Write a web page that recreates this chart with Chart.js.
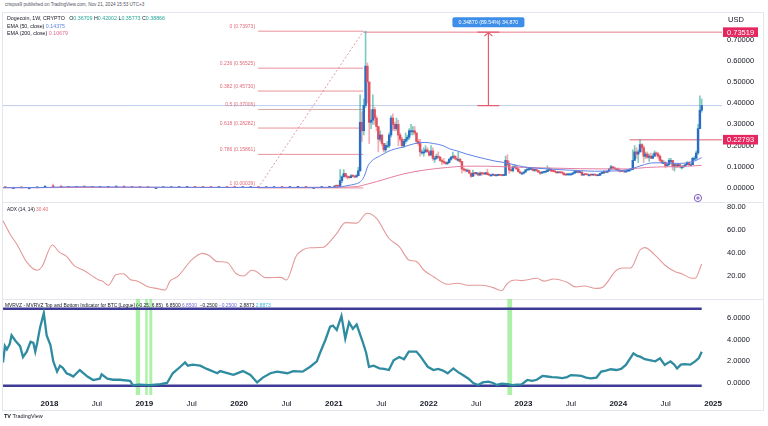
<!DOCTYPE html>
<html>
<head>
<meta charset="utf-8">
<script src="https://cdn.jsdelivr.net/npm/chart.js@4.4.1/dist/chart.umd.min.js"></script>
<style>
  body { margin: 0; background: #fff; font-family: "Liberation Sans", Arial, sans-serif; }
  #wrap { position: relative; width: 768px; height: 426px; overflow: hidden; background: #fff; }
  .frame { position: absolute; left: 2px; top: 12px; width: 762px; height: 399px; border: 1px solid #e3e6ec; box-sizing: border-box; }
  .sep { position: absolute; left: 2px; width: 762px; height: 1px; background: #e3e6ec; }
  canvas { position: absolute; }
  .txt { position: absolute; white-space: nowrap; color: #131722; line-height: 1; z-index: 5; }
</style>
</head>
<body>
<div id="wrap">
  <div class="frame"></div>
  <div class="sep" style="top:202px"></div>
  <div class="sep" style="top:299px"></div>
  <canvas id="price" width="757" height="188" style="left:3px;top:14px"></canvas>
  <canvas id="adx" width="757" height="98" style="left:3px;top:201px"></canvas>
  <canvas id="mvrv" width="757" height="112" style="left:3px;top:299px"></canvas>

  <div class="txt" style="left:5px;top:3px;font-size:4.6px;color:#50535e">crispus9 published on TradingView.com, Nov 21, 2024 15:53 UTC+3</div>
  <div class="txt" style="left:7px;top:15.8px;font-size:5.3px">Dogecoin, 1W, CRYPTO&nbsp;&nbsp; O<span style="color:#26a69a">0.36709</span> H<span style="color:#26a69a">0.42002</span> L<span style="color:#26a69a">0.35773</span> C<span style="color:#26a69a">0.38866</span></div>
  <div class="txt" style="left:7px;top:23.6px;font-size:5.3px">EMA (50, close) <span style="color:#5f82e6">0.14375</span></div>
  <div class="txt" style="left:7px;top:30.8px;font-size:5.3px">EMA (200, close) <span style="color:#e06a8e">0.10679</span></div>
  <div class="txt" style="left:7px;top:207.5px;font-size:4.8px">ADX (14, 14) <span style="color:#e06a6a">30.40</span></div>
  <div class="txt" style="left:5px;top:304px;font-size:4.9px">MVRVZ - MVRVZ Top and Bottom Indicator for BTC [Logue] (-0.25, 6.85)&nbsp; 6.8500 <span style="color:#7e6ccf">6.8500</span>&nbsp; −0.2500 <span style="color:#6a6ad8">−0.2500</span>&nbsp; 2.8873 <span style="color:#36b9d6">2.8873</span></div>
  <div class="txt" style="left:4px;top:414px;font-size:5.5px;color:#131722"><b>TV</b> TradingView</div>
</div>

<script>
// ---- price data: monthly candles Jul 2017 - Dec 2020, then weekly from 4 Jan 2021
var earlyOpen = 0.0019;
var earlyClose = [0.0018, 0.0018, 0.0011, 0.0011, 0.0017, 0.0089,
  0.0058, 0.0049, 0.0030, 0.0049, 0.0048, 0.0028, 0.0031, 0.0045, 0.0057, 0.0045, 0.0030, 0.0024,
  0.0019, 0.0019, 0.0020, 0.0025, 0.0031, 0.0032, 0.0028, 0.0025, 0.0024, 0.0026, 0.0023, 0.0020,
  0.0025, 0.0027, 0.0018, 0.0020, 0.0025, 0.0024, 0.0033, 0.0034, 0.0026, 0.0026, 0.0035, 0.0047];
var earlyHigh = [0.0021, 0.0026, 0.0019, 0.0013, 0.0019, 0.0108,
  0.0187, 0.0066, 0.0049, 0.0058, 0.0072, 0.0047, 0.0038, 0.0047, 0.0076, 0.0058, 0.0046, 0.0030,
  0.0025, 0.0024, 0.0022, 0.0036, 0.0035, 0.0045, 0.0034, 0.0031, 0.0027, 0.0028, 0.0029, 0.0023,
  0.0026, 0.0030, 0.0028, 0.0022, 0.0026, 0.0028, 0.0050, 0.0038, 0.0036, 0.0027, 0.0039, 0.0057];
var earlyLow = [0.0013, 0.0016, 0.0008, 0.0009, 0.0010, 0.0017,
  0.0049, 0.0036, 0.0028, 0.0029, 0.0042, 0.0025, 0.0026, 0.0020, 0.0042, 0.0042, 0.0027, 0.0019,
  0.0018, 0.0018, 0.0019, 0.0020, 0.0024, 0.0029, 0.0025, 0.0023, 0.0023, 0.0023, 0.0022, 0.0019,
  0.0020, 0.0023, 0.0011, 0.0017, 0.0019, 0.0022, 0.0024, 0.0029, 0.0024, 0.0024, 0.0025, 0.0028];

var close2021 = [.0099, .0088, .0086, .035, .053, .068, .056, .051, .049, .058, .056, .052, .058, .081, .31, .27, .39, .575, .50, .31,
  .32, .37, .33, .29, .23, .25, .21, .18, .20, .20, .25, .33, .30, .28, .30, .25, .23, .20, .22, .23,
  .24, .27, .27, .27, .26, .22, .21, .17, .17, .17, .18, .17];
var high2021 = [.0106, .0107, .0093, .087, .058, .087, .070, .058, .054, .063, .061, .057, .064, .098, .44, .36, .42, .74, .59, .50,
  .37, .44, .38, .34, .29, .27, .25, .21, .21, .22, .26, .34, .35, .31, .33, .32, .26, .24, .23, .26,
  .25, .28, .30, .29, .29, .26, .23, .23, .18, .19, .20, .19];
var low2021 = [.0045, .0076, .0074, .0083, .025, .053, .048, .042, .045, .048, .053, .048, .051, .058, .078, .22, .25, .38, .40, .21,
  .28, .30, .30, .27, .17, .22, .20, .17, .17, .19, .19, .24, .27, .27, .27, .20, .22, .19, .19, .21,
  .22, .23, .25, .25, .25, .21, .20, .15, .16, .15, .17, .17];

var close2022 = [.155, .175, .14, .14, .15, .145, .13, .125, .12, .115, .12, .135, .145, .15, .14, .135, .135, .125, .09, .085,
  .083, .083, .07, .055, .07, .068, .07, .061, .07, .068, .066, .072, .063, .061, .061, .063, .058, .06, .062, .06,
  .059, .06, .13, .11, .085, .082, .10, .10, .09, .077, .07, .07];
var high2022 = [.175, .20, .19, .15, .16, .17, .15, .135, .14, .125, .125, .14, .15, .17, .155, .15, .17, .14, .125, .095,
  .09, .09, .087, .07, .085, .073, .074, .071, .076, .072, .071, .074, .089, .066, .065, .066, .065, .062, .064, .065,
  .062, .063, .15, .157, .125, .09, .105, .11, .105, .093, .078, .074];
var low2022 = [.15, .155, .13, .12, .135, .14, .125, .11, .115, .11, .11, .118, .13, .14, .135, .13, .125, .12, .07, .08,
  .075, .08, .07, .05, .055, .06, .063, .058, .06, .06, .064, .064, .061, .058, .058, .059, .057, .056, .058, .059,
  .057, .058, .059, .105, .07, .078, .076, .095, .088, .075, .069, .066];

var close2023 = [.075, .085, .087, .088, .09, .083, .087, .082, .075, .07, .074, .075, .077, .084, .089, .08, .079, .077, .072, .073,
  .072, .071, .063, .062, .066, .066, .066, .07, .078, .078, .073, .075, .061, .064, .063, .062, .062, .061, .063, .061,
  .058, .06, .069, .07, .078, .074, .08, .09, .10, .094, .09, .09];
var high2023 = [.078, .088, .092, .095, .098, .093, .09, .09, .084, .076, .077, .079, .08, .105, .095, .092, .082, .081, .078, .075,
  .074, .075, .072, .064, .068, .069, .07, .073, .083, .08, .079, .076, .076, .065, .068, .064, .064, .063, .064, .065,
  .062, .061, .071, .072, .082, .08, .081, .092, .107, .101, .10, .094];
var low2023 = [.066, .074, .082, .083, .086, .08, .078, .078, .073, .063, .068, .071, .071, .076, .082, .077, .076, .074, .068, .071,
  .07, .07, .06, .058, .061, .063, .063, .064, .069, .074, .071, .072, .058, .06, .062, .061, .06, .06, .06, .06,
  .057, .058, .06, .066, .069, .072, .072, .079, .089, .088, .088, .086];

var close2024 = [.083, .079, .08, .079, .079, .08, .086, .087, .13, .17, .16, .17, .205, .19, .15, .16, .145, .15, .14, .15,
  .165, .16, .15, .13, .12, .12, .105, .11, .13, .13, .10, .11, .10, .11, .10, .10, .105, .11, .12, .11,
  .11, .14, .14, .165, .28, .36709, .38866];
var high2024 = [.095, .087, .083, .081, .082, .084, .088, .09, .18, .20, .19, .18, .228, .21, .20, .17, .17, .16, .165, .16,
  .175, .17, .168, .155, .135, .13, .125, .115, .14, .14, .13, .115, .112, .115, .112, .105, .108, .115, .125, .125,
  .115, .145, .15, .175, .30, .435, .42002];
var low2024 = [.077, .075, .077, .074, .077, .078, .08, .083, .086, .13, .14, .12, .17, .17, .12, .14, .14, .125, .14, .14,
  .15, .15, .14, .125, .115, .115, .095, .10, .108, .12, .085, .08, .095, .098, .095, .09, .095, .10, .11, .105,
  .105, .11, .135, .135, .16, .28, .35773];

// ---- EMA lines (decimal year, price)
var ema50Dates = [2017.51, 2017.9, 2018.1, 2018.3, 2018.6, 2019.0, 2019.5, 2020.0, 2020.5, 2020.95, 2021.08, 2021.15, 2021.22, 2021.28, 2021.32,
  2021.36, 2021.42, 2021.49, 2021.57, 2021.65, 2021.72, 2021.8, 2021.88, 2021.96, 2022.05, 2022.15, 2022.22, 2022.3, 2022.4, 2022.5,
  2022.6, 2022.7, 2022.8, 2022.9, 2023.0, 2023.15, 2023.3, 2023.45, 2023.6, 2023.75, 2023.9, 2024.05, 2024.15, 2024.25, 2024.35,
  2024.45, 2024.55, 2024.65, 2024.75, 2024.82, 2024.88];
var ema50Values = [.0016, .002, .0045, .006, .005, .004, .003, .0028, .0026, .0032, .006, .012, .018, .03, .055,
  .105, .135, .152, .172, .185, .192, .203, .212, .215, .21, .2, .185, .175, .16, .148,
  .137, .127, .12, .11, .1, .093, .089, .085, .082, .079, .08, .083, .092, .107, .118,
  .119, .117, .116, .121, .13, .14375];
var ema200Dates = [2017.51, 2018.0, 2018.5, 2019.0, 2020.0, 2020.95, 2021.1, 2021.25, 2021.35, 2021.45, 2021.6, 2021.75, 2021.96,
  2022.2, 2022.4, 2022.6, 2022.8, 2023.0, 2023.3, 2023.6, 2023.9, 2024.1, 2024.3, 2024.5, 2024.7, 2024.88];
var ema200Values = [.001, .002, .0028, .003, .0028, .0029, .004, .007, .018, .03, .05, .068, .085,
  .097, .103, .103, .1, .097, .094, .091, .09, .09, .097, .1, .102, .10679];

// ---- ADX (14, 14)
var adxDates = [2017.51, 2017.58, 2017.66, 2017.76, 2017.87, 2017.92, 2018.03, 2018.10, 2018.18, 2018.26,
  2018.36, 2018.52, 2018.56, 2018.62, 2018.70, 2018.78, 2018.85, 2018.93, 2019.04, 2019.14,
  2019.22, 2019.27, 2019.35, 2019.50, 2019.61, 2019.68, 2019.77, 2019.87, 2019.97, 2020.05,
  2020.13, 2020.18, 2020.28, 2020.44, 2020.50, 2020.60, 2020.67, 2020.75, 2020.89, 2020.96,
  2021.03, 2021.12, 2021.24, 2021.35, 2021.45, 2021.58, 2021.69, 2021.79, 2021.87, 2021.95,
  2022.05, 2022.20, 2022.31, 2022.41, 2022.57, 2022.68, 2022.77, 2022.83, 2022.91, 2022.98,
  2023.14, 2023.22, 2023.32, 2023.46, 2023.55, 2023.64, 2023.77, 2023.84, 2023.98, 2024.05,
  2024.13, 2024.23, 2024.28, 2024.39, 2024.49, 2024.60, 2024.67, 2024.76, 2024.81, 2024.88];
var adxValues = [68, 57, 47, 32, 25, 28, 47, 41, 37, 29,
  25, 16.5, 15.5, 12, 21, 22, 17, 15.5, 10.7, 9,
  7.8, 15.5, 19.4, 34, 39.7, 38, 32.5, 32, 22, 20,
  25, 24, 18.6, 18.8, 16.5, 37, 42.6, 44.5, 45, 50,
  57, 66.4, 66, 74.5, 70, 52.8, 45.5, 34, 32.6, 25,
  19.4, 12.8, 13.7, 12, 12, 9.9, 7.2, 13.6, 16.5, 16,
  18, 15.5, 17.4, 14.5, 10.5, 11.3, 9.2, 10.5, 25, 27,
  27, 42.6, 44.7, 38, 29.6, 23.7, 22, 18.3, 18, 30.4];

// ---- MVRVZ
var mvrvDates = [2017.51, 2017.53, 2017.55, 2017.58, 2017.60, 2017.64, 2017.69, 2017.72, 2017.76, 2017.80,
  2017.83, 2017.85, 2017.87, 2017.90, 2017.94, 2017.97, 2018.01, 2018.04, 2018.08, 2018.11,
  2018.14, 2018.18, 2018.22, 2018.25, 2018.32, 2018.40, 2018.46, 2018.53, 2018.55, 2018.61,
  2018.67, 2018.74, 2018.85, 2018.88, 2018.95, 2019.06, 2019.17, 2019.24, 2019.30, 2019.38,
  2019.43, 2019.46, 2019.51, 2019.59, 2019.66, 2019.77, 2019.80, 2019.94, 2020.04, 2020.12,
  2020.19, 2020.25, 2020.33, 2020.40, 2020.51, 2020.57, 2020.67, 2020.75, 2020.82, 2020.85,
  2020.91, 2020.96, 2020.99, 2021.03, 2021.08, 2021.12, 2021.16, 2021.20, 2021.24, 2021.30,
  2021.34, 2021.37, 2021.42, 2021.48, 2021.53, 2021.58, 2021.63, 2021.69, 2021.74, 2021.79,
  2021.87, 2021.91, 2021.95, 2021.99, 2022.05, 2022.10, 2022.15, 2022.20, 2022.26, 2022.31,
  2022.36, 2022.42, 2022.47, 2022.52, 2022.57, 2022.63, 2022.68, 2022.72, 2022.77, 2022.83,
  2022.88, 2022.93, 2022.98, 2023.04, 2023.09, 2023.14, 2023.20, 2023.25, 2023.30, 2023.35,
  2023.41, 2023.46, 2023.50, 2023.55, 2023.61, 2023.66, 2023.71, 2023.77, 2023.82, 2023.87,
  2023.92, 2023.98, 2024.03, 2024.08, 2024.12, 2024.16, 2024.20, 2024.23, 2024.28, 2024.33,
  2024.39, 2024.44, 2024.49, 2024.55, 2024.59, 2024.62, 2024.66, 2024.70, 2024.76, 2024.81,
  2024.85, 2024.88];
var mvrvValues = [1.9, 3.4, 3.1, 3.6, 4.4, 3.9, 3.4, 2.4, 2.9, 3.8,
  3.7, 2.9, 3.7, 5.1, 6.45, 4.4, 3.5, 2.0, 1.05, 1.6,
  1.4, 0.9, 0.75, 0.6, 1.2, 0.6, 0.27, 0.4, 0.8, 0.4,
  0.3, 0.3, 0.2, -0.2, -0.15, -0.2, -0.1, 0.0, 0.9, 1.5,
  1.9, 1.6, 1.7, 1.6, 1.3, 0.9, 1.1, 0.75, 1.1, 0.75,
  0.05, 0.5, 0.9, 1.05, 0.9, 1.1, 1.05, 1.5, 2.0, 2.7,
  3.97, 5.2, 5.3, 4.9, 6.2, 4.1, 5.6, 5.0, 5.4, 3.9,
  2.8, 1.5, 1.6, 1.35, 1.3, 1.2, 2.1, 2.4, 2.2, 2.9,
  2.9, 2.5, 2.0, 1.5, 1.2, 1.3, 1.15, 0.9, 1.35, 1.0,
  0.73, 0.4, 0.0, -0.18, 0.05, 0.12, 0.0, -0.18, -0.05, -0.1,
  -0.2, -0.15, -0.12, 0.28, 0.2, 0.3, 0.65, 0.6, 0.55, 0.52,
  0.45, 0.55, 0.73, 0.7, 0.65, 0.5, 0.43, 0.5, 1.05, 1.15,
  1.27, 1.2, 1.3, 1.67, 2.2, 2.74, 2.5, 2.43, 2.2, 2.12,
  2.0, 2.28, 1.67, 2.0, 1.7, 1.35, 1.7, 1.75, 1.7, 2.0,
  2.3, 2.8873];
var mvrvBands = [6.85, -0.25];
var greenZones = [[2018.91, 2018.955], [2019.01, 2019.036], [2019.053, 2019.084], [2022.83, 2022.88]];

// ---- drawings on the price pane
var fibStart = 2020.20, fibEnd = 2021.31;
var fibRatios = ['0', '0.236', '0.382', '0.5', '0.618', '0.786', '1'];
var fibPrices = [0.73973, 0.56525, 0.45730, 0.37006, 0.28282, 0.15861, 0.00039];
var lastClose = 0.38866;
var topLevel = 0.73519, supportLevel = 0.22793, supportFrom = 2024.12;
var measureAt = 2022.63, measureLabel = '0.34870 (89.54%) 34,870';

// ---- axes
var priceTicks = [0, 0.1, 0.2, 0.3, 0.4, 0.5, 0.6, 0.7];
var adxTicks = [20, 40, 60, 80];
var mvrvTicks = [0, 2, 4, 6];
var timeTicks = [2018, 2018.5, 2019, 2019.5, 2020, 2020.5, 2021, 2021.5, 2022, 2022.5, 2023, 2023.5, 2024, 2024.5, 2025];
var xMin = 2017.5095, xMax = 2025.094;

var FONT = '"Liberation Sans", Arial, sans-serif';

function toYear(ms) {
  var y = new Date(ms).getUTCFullYear();
  var a = Date.UTC(y, 0, 1), b = Date.UTC(y + 1, 0, 1);
  return y + (ms - a) / (b - a);
}

var candles = [];
var prev = earlyOpen;
earlyClose.forEach(function (c, i) {
  candles.push({ x: toYear(Date.UTC(2017, 6 + i, 15)), o: prev, h: earlyHigh[i], l: earlyLow[i], c: c });
  prev = c;
});
var wClose = close2021.concat(close2022, close2023, close2024);
var wHigh = high2021.concat(high2022, high2023, high2024);
var wLow = low2021.concat(low2022, low2023, low2024);
wClose.forEach(function (c, i) {
  candles.push({ x: toYear(Date.UTC(2021, 0, 4) + i * 7 * 86400000), o: prev, h: wHigh[i], l: wLow[i], c: c });
  prev = c;
});

function pts(xs, ys) { return xs.map(function (t, i) { return { x: t, y: ys[i] }; }); }

function rightAxis(min, max, ticks, fmt) {
  return {
    position: 'right', min: min, max: max,
    grid: { display: false, drawTicks: false }, border: { display: false },
    afterBuildTicks: function (s) { s.ticks = ticks.map(function (v) { return { value: v }; }); },
    afterFit: function (s) { s.width = 38; s.paddingTop = 0; s.paddingBottom = 0; },
    ticks: { padding: 5, color: '#131722', font: { size: 7.5, family: FONT }, callback: fmt }
  };
}

function hline(ctx, x1, y1, x2, y2) { ctx.beginPath(); ctx.moveTo(x1, y1); ctx.lineTo(x2, y2); ctx.stroke(); }

function axisBox(ctx, a, y, text) {
  ctx.fillStyle = '#e5275f';
  ctx.fillRect(a.right + 1, y - 4.8, 35, 9.6);
  ctx.fillStyle = '#fff';
  ctx.font = '7.5px ' + FONT;
  ctx.textAlign = 'left'; ctx.textBaseline = 'middle';
  ctx.fillText(text, a.right + 5, y + 0.5);
}

var pricePlugin = {
  id: 'priceDrawings',
  beforeDatasetsDraw: function (chart) {
    var ctx = chart.ctx, a = chart.chartArea, x = chart.scales.x, y = chart.scales.y;
    ctx.save();
    ctx.strokeStyle = 'rgba(172,192,234,0.8)'; ctx.lineWidth = 1;
    hline(ctx, a.left, y.getPixelForValue(lastClose), a.right, y.getPixelForValue(lastClose));

    var x0 = x.getPixelForValue(fibStart), x1 = x.getPixelForValue(fibEnd);
    ctx.font = '5px ' + FONT; ctx.textAlign = 'right'; ctx.textBaseline = 'middle';
    fibPrices.forEach(function (p, i) {
      var py = y.getPixelForValue(p);
      ctx.strokeStyle = i === 3 ? 'rgba(200,140,150,0.75)' : 'rgba(226,110,122,0.75)';
      hline(ctx, x0, py, x1, py);
      ctx.fillStyle = '#e06c78';
      ctx.fillText(fibRatios[i] + ' (' + p.toFixed(5) + ')', x0 - 3, py - 4.5);
    });
    ctx.setLineDash([2, 2]);
    ctx.strokeStyle = 'rgba(220,120,132,0.75)';
    hline(ctx, x0, y.getPixelForValue(fibPrices[6]), x1, y.getPixelForValue(fibPrices[0]));
    ctx.setLineDash([]);

    ctx.strokeStyle = 'rgba(226,100,115,0.85)'; ctx.lineWidth = 1;
    hline(ctx, x1, y.getPixelForValue(topLevel), a.right, y.getPixelForValue(topLevel));
    ctx.strokeStyle = 'rgba(226,120,135,0.8)'; ctx.lineWidth = 1.5;
    hline(ctx, x.getPixelForValue(supportFrom), y.getPixelForValue(supportLevel), a.right, y.getPixelForValue(supportLevel));
    ctx.restore();
  },
  afterDraw: function (chart) {
    var ctx = chart.ctx, a = chart.chartArea, x = chart.scales.x, y = chart.scales.y;
    ctx.save();
    // measure tool
    var xm = x.getPixelForValue(measureAt);
    var yt = y.getPixelForValue(topLevel), yb = y.getPixelForValue(lastClose);
    ctx.strokeStyle = '#e35d6d'; ctx.lineWidth = 1.2;
    hline(ctx, xm, yb, xm, yt);
    hline(ctx, xm - 11, yt, xm + 11, yt);
    hline(ctx, xm - 11, yb, xm + 11, yb);
    ctx.beginPath(); ctx.moveTo(xm - 4, yt + 4); ctx.lineTo(xm, yt + 0.5); ctx.lineTo(xm + 4, yt + 4); ctx.stroke();
    ctx.fillStyle = '#3d8ee8';
    ctx.beginPath();
    if (ctx.roundRect) ctx.roundRect(xm - 36, yt - 15, 72, 10, 2); else ctx.rect(xm - 36, yt - 15, 72, 10);
    ctx.fill();
    ctx.fillStyle = '#fff'; ctx.font = '5.3px ' + FONT; ctx.textAlign = 'center'; ctx.textBaseline = 'middle';
    ctx.fillText(measureLabel, xm, yt - 9.8);

    // axis labels for the drawn levels
    axisBox(ctx, a, y.getPixelForValue(topLevel), topLevel.toFixed(5));
    axisBox(ctx, a, y.getPixelForValue(supportLevel), supportLevel.toFixed(5));
    ctx.fillStyle = '#131722'; ctx.font = '7.5px ' + FONT; ctx.textAlign = 'left'; ctx.textBaseline = 'middle';
    ctx.fillText('USD', a.right + 6, a.top + 5.5);

    // small "+" marker
    var px = x.getPixelForValue(2024.84), py = a.bottom - 4;
    ctx.strokeStyle = '#7e57c2'; ctx.lineWidth = 1;
    ctx.beginPath(); ctx.arc(px, py, 3.6, 0, Math.PI * 2); ctx.stroke();
    hline(ctx, px - 1.8, py, px + 1.8, py); hline(ctx, px, py - 1.8, px, py + 1.8);
    ctx.restore();
  }
};

var zonePlugin = {
  id: 'zones',
  beforeDatasetsDraw: function (chart) {
    var ctx = chart.ctx, a = chart.chartArea, x = chart.scales.x;
    ctx.save();
    ctx.fillStyle = 'rgba(118,232,110,0.6)';
    greenZones.forEach(function (z) {
      var l = x.getPixelForValue(z[0]), r = x.getPixelForValue(z[1]);
      ctx.fillRect(l, a.top, r - l, a.bottom - a.top);
    });
    ctx.restore();
  }
};

var base = {
  responsive: false, animation: false, devicePixelRatio: 1,
  layout: { padding: 0 },
  plugins: { legend: { display: false }, tooltip: { enabled: false } }
};

var upBody = '#2b6cc4', downBody = '#e0505e';
var upWick = 'rgba(38,166,154,0.6)', downWick = 'rgba(235,90,100,0.5)';

new Chart(document.getElementById('price'), {
  type: 'bar',
  data: {
    datasets: [
      { type: 'line', data: pts(ema50Dates, ema50Values), borderColor: '#5f82e6', borderWidth: 1, pointRadius: 0, cubicInterpolationMode: 'monotone', order: 0 },
      { type: 'line', data: pts(ema200Dates, ema200Values), borderColor: '#e47ea0', borderWidth: 1, pointRadius: 0, cubicInterpolationMode: 'monotone', order: 1 },
      { data: candles.map(function (k) { return { x: k.x, y: [k.o, k.c] }; }),
        backgroundColor: candles.map(function (k) { return k.c >= k.o ? upBody : downBody; }),
        barThickness: 1.8, minBarLength: 1, grouped: false, order: 2 },
      { data: candles.map(function (k) { return { x: k.x, y: [k.l, k.h] }; }),
        backgroundColor: candles.map(function (k) { return k.c >= k.o ? upWick : downWick; }),
        barThickness: 1, grouped: false, order: 3 }
    ]
  },
  options: Object.assign({}, base, {
    scales: {
      x: { type: 'linear', min: xMin, max: xMax, display: false, offset: false },
      y: rightAxis(-0.0660, 0.8208, priceTicks, function (v) { return v.toFixed(5); })
    }
  }),
  plugins: [pricePlugin]
});

new Chart(document.getElementById('adx'), {
  type: 'line',
  data: { datasets: [
    { data: pts(adxDates, adxValues), borderColor: '#e49a9a', borderWidth: 1.1, pointRadius: 0, cubicInterpolationMode: 'monotone' }
  ] },
  options: Object.assign({}, base, {
    scales: {
      x: { type: 'linear', min: xMin, max: xMax, display: false },
      y: rightAxis(0, 85.2, adxTicks, function (v) { return v.toFixed(2); })
    }
  })
});

var bandStart = mvrvDates[0], bandEnd = mvrvDates[mvrvDates.length - 1];
new Chart(document.getElementById('mvrv'), {
  type: 'line',
  data: { datasets: [
    { data: pts(mvrvDates, mvrvValues), borderColor: '#2f8ca0', borderWidth: 2.3, pointRadius: 0, tension: 0 },
    { data: [{ x: bandStart, y: mvrvBands[0] }, { x: bandEnd, y: mvrvBands[0] }], borderColor: '#3d3b96', borderWidth: 2.5, pointRadius: 0 },
    { data: [{ x: bandStart, y: mvrvBands[1] }, { x: bandEnd, y: mvrvBands[1] }], borderColor: '#3d3b96', borderWidth: 2.5, pointRadius: 0 }
  ] },
  options: Object.assign({}, base, {
    scales: {
      x: {
        type: 'linear', min: xMin, max: xMax,
        grid: { display: false, drawTicks: false }, border: { display: false },
        afterBuildTicks: function (s) { s.ticks = timeTicks.map(function (v) { return { value: v }; }); },
        afterFit: function (s) { s.height = 16; s.paddingLeft = 0; s.paddingRight = 0; },
        ticks: {
          autoSkip: false, maxRotation: 0, padding: 4, color: '#131722',
          font: function (c) { return { size: 8, family: FONT, weight: (c.tick && Number.isInteger(c.tick.value)) ? 'bold' : 'normal' }; },
          callback: function (v) { return Number.isInteger(v) ? String(v) : 'Jul'; }
        }
      },
      y: rightAxis(-1.108, 7.756, mvrvTicks, function (v) { return v.toFixed(4); })
    }
  }),
  plugins: [zonePlugin]
});
</script>
</body>
</html>
